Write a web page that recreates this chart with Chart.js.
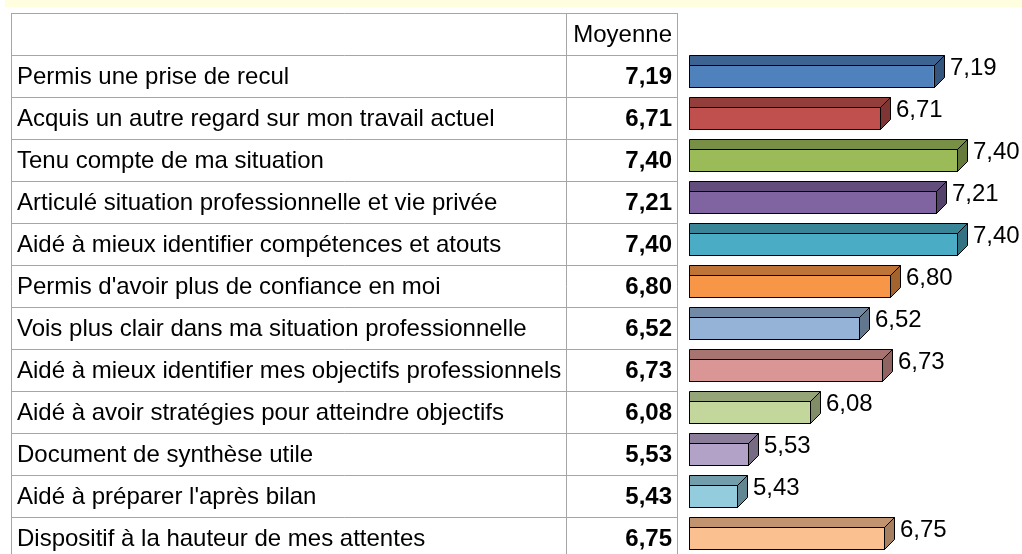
<!DOCTYPE html>
<html>
<head>
<meta charset="utf-8">
<script src="https://cdn.jsdelivr.net/npm/chart.js@4"></script>
<style>
html,body{margin:0;padding:0;background:#fff;overflow:hidden;}
#wrap{width:1022px;height:554px;overflow:hidden;position:relative;}
canvas{display:block;}
</style>
</head>
<body>
<div id="wrap"><canvas id="c" width="1040" height="580"></canvas></div>
<script>
const categories = [
  "Permis une prise de recul",
  "Acquis un autre regard sur mon travail actuel",
  "Tenu compte de ma situation",
  "Articulé situation professionnelle et vie privée",
  "Aidé à mieux identifier compétences et atouts",
  "Permis d'avoir plus de confiance en moi",
  "Vois plus clair dans ma situation professionnelle",
  "Aidé à mieux identifier mes objectifs professionnels",
  "Aidé à avoir stratégies pour atteindre objectifs",
  "Document de synthèse utile",
  "Aidé à préparer l'après bilan",
  "Dispositif à la hauteur de mes attentes"
];
const moyennes = [7.19, 6.71, 7.40, 7.21, 7.40, 6.80, 6.52, 6.73, 6.08, 5.53, 5.43, 6.75];
const columnHeader = "Moyenne";
const axisMin = 5, axisMax = 8;
const frontColors = ["#4F81BD","#C0504D","#9BBB59","#8064A2","#4BACC6","#F79646",
                     "#95B3D7","#D99694","#C3D69B","#B3A2C7","#93CDDD","#FAC090"];

const FONT = "'Liberation Sans', Arial, sans-serif";
const fmt = v => v.toFixed(2).replace('.', ',');
function shade(hex, f){
  const n = parseInt(hex.slice(1),16);
  const r = Math.round(((n>>16)&255)*f), g = Math.round(((n>>8)&255)*f), b = Math.round((n&255)*f);
  return `rgb(${r},${g},${b})`;
}

const DEPTH = 10;
const TABLE_LEFT = 11, COL_SEP = 566, TABLE_RIGHT = 677, TABLE_TOP = 13;

const tablePlugin = {
  id: 'table',
  beforeDraw(chart){
    const ctx = chart.ctx, ys = chart.scales.y;
    const n = categories.length;
    const band = (ys.getPixelForValue(1) - ys.getPixelForValue(0));
    ctx.save();
    ctx.fillStyle = '#fff';
    ctx.fillRect(0,0,chart.width,chart.height);
    ctx.fillStyle = '#FFFFE0';
    ctx.fillRect(5,0,chart.width,7);
    ctx.strokeStyle = '#A6A6A6';
    ctx.lineWidth = 1;
    const firstTop = ys.getPixelForValue(0) - band/2;
    const lastBottom = ys.getPixelForValue(n-1) + band/2;
    ctx.beginPath();
    ctx.moveTo(TABLE_LEFT, TABLE_TOP+0.5); ctx.lineTo(TABLE_RIGHT+0.5, TABLE_TOP+0.5);
    for(let i=0;i<=n;i++){
      const y = Math.round(firstTop + i*band) + 0.5;
      ctx.moveTo(TABLE_LEFT, y); ctx.lineTo(TABLE_RIGHT+0.5, y);
    }
    [TABLE_LEFT, COL_SEP, TABLE_RIGHT].forEach(x=>{
      ctx.moveTo(x+0.5, TABLE_TOP); ctx.lineTo(x+0.5, lastBottom+1);
    });
    ctx.stroke();
    ctx.fillStyle = '#000';
    ctx.textBaseline = 'middle';
    ctx.font = `24px ${FONT}`;
    ctx.textAlign = 'right';
    ctx.fillText(columnHeader, TABLE_RIGHT-5, (TABLE_TOP + firstTop)/2 + 1);
    for(let i=0;i<n;i++){
      const yc = ys.getPixelForValue(i) + 1;
      ctx.font = `24px ${FONT}`;
      ctx.textAlign = 'left';
      ctx.fillText(categories[i], TABLE_LEFT+6, yc);
      ctx.font = `bold 24px ${FONT}`;
      ctx.textAlign = 'right';
      ctx.fillText(fmt(moyennes[i]), TABLE_RIGHT-5, yc);
    }
    ctx.restore();
  },
  afterDatasetsDraw(chart){
    const ctx = chart.ctx;
    const meta = chart.getDatasetMeta(0);
    const left = chart.chartArea.left;
    ctx.save();
    ctx.lineWidth = 1;
    ctx.strokeStyle = '#000';
    ctx.lineJoin = 'miter';
    meta.data.forEach((bar, i)=>{
      const x0 = Math.round(Math.max(bar.base, left)), x1 = Math.round(bar.x);
      const yt = Math.round(bar.y - bar.height/2), yb = Math.round(bar.y + bar.height/2);
      const d = DEPTH;
      ctx.fillStyle = shade(frontColors[i], 0.77);
      ctx.beginPath();
      ctx.moveTo(x0+0.5, yt+0.5);
      ctx.lineTo(x1+0.5, yt+0.5);
      ctx.lineTo(x1+d+0.5, yt-d+0.5);
      ctx.lineTo(x0+0.5, yt-d+0.5);
      ctx.closePath();
      ctx.fill(); ctx.stroke();
      ctx.fillStyle = shade(frontColors[i], 0.66);
      ctx.beginPath();
      ctx.moveTo(x1+0.5, yt+0.5);
      ctx.lineTo(x1+d+0.5, yt-d+0.5);
      ctx.lineTo(x1+d+0.5, yb-d+0.5);
      ctx.lineTo(x1+0.5, yb+0.5);
      ctx.closePath();
      ctx.fill(); ctx.stroke();
      ctx.strokeRect(x0+0.5, yt+0.5, x1-x0, yb-yt);
      ctx.fillStyle = '#000';
      ctx.font = `24px ${FONT}`;
      ctx.textAlign = 'left';
      ctx.textBaseline = 'alphabetic';
      ctx.fillText(fmt(moyennes[i]), x1+d+6, yt+10);
    });
    ctx.restore();
  }
};

new Chart(document.getElementById('c'), {
  type: 'bar',
  data: {
    labels: categories,
    datasets: [{
      data: moyennes,
      base: axisMin,
      backgroundColor: frontColors,
      borderWidth: 0,
      barThickness: 22
    }]
  },
  options: {
    indexAxis: 'y',
    responsive: false,
    animation: false,
    devicePixelRatio: 1,
    layout: { padding: { left: 689, right: 16, top: 55, bottom: 21 } },
    plugins: { legend: { display: false }, tooltip: { enabled: false }, title: { display: false } },
    scales: {
      x: { display: false, min: axisMin, max: axisMax },
      y: { display: false }
    }
  },
  plugins: [tablePlugin]
});
</script>
</body>
</html>
